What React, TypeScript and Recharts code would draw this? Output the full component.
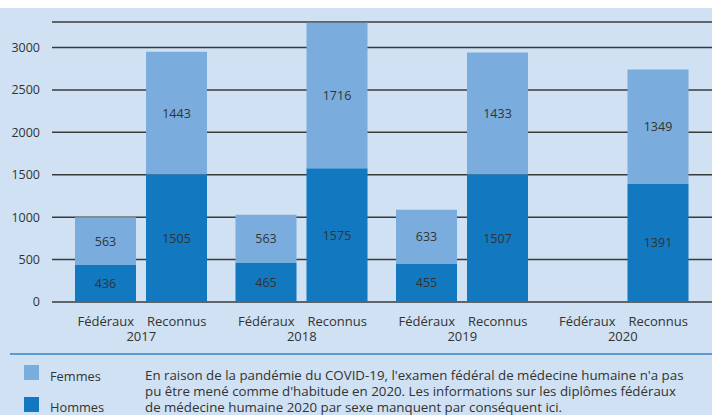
import React from "react";
import { BarChart, Bar, XAxis, YAxis, CartesianGrid, LabelList } from "recharts";

const years = ["2017", "2018", "2019", "2020"];
const federauxHommes = [436, 465, 455, null];
const federauxFemmes = [563, 563, 633, null];
const reconnusHommes = [1505, 1575, 1507, 1391];
const reconnusFemmes = [1443, 1716, 1433, 1349];
const yTicks = [0, 500, 1000, 1500, 2000, 2500, 3000];
const subLabels = ["Fédéraux", "Reconnus"];
const legendLabels = ["Femmes", "Hommes"];
const noteLines = [
  "En raison de la pandémie du COVID-19, l'examen fédéral de médecine humaine n'a pas",
  "pu être mené comme d'habitude en 2020. Les informations sur les diplômes fédéraux",
  "de médecine humaine 2020 par sexe manquent par conséquent ici.",
];

const data = years.map((y, i) => ({
  year: y,
  fedH: federauxHommes[i],
  fedF: federauxFemmes[i],
  recH: reconnusHommes[i],
  recF: reconnusFemmes[i],
}));

const FONT = "'Open Sans', sans-serif";
const TEXT = "#333333";
const DARK = "#1278c0";
const LIGHT = "#7aaddd";
const BG = "#cfe1f2";

const XTick = (props: any) => {
  const { x, y, payload } = props;
  return (
    <g>
      <text x={x - 35.5} y={y + 17} textAnchor="middle" dominantBaseline="central" fontSize={13} fill={TEXT} fontFamily={FONT}>
        {subLabels[0]}
      </text>
      <text x={x + 35.5} y={y + 17} textAnchor="middle" dominantBaseline="central" fontSize={13} fill={TEXT} fontFamily={FONT}>
        {subLabels[1]}
      </text>
      <text x={x} y={y + 32} textAnchor="middle" dominantBaseline="central" fontSize={13} fill={TEXT} fontFamily={FONT}>
        {payload.value}
      </text>
    </g>
  );
};

const labelStyle = { fontSize: 12.5, fill: TEXT, fontFamily: FONT };

export default function App() {
  return (
    <div style={{ position: "absolute", left: 0, top: 8, width: 712, height: 407, background: BG, overflow: "hidden", fontFamily: FONT }}>
      <BarChart
        width={712}
        height={345}
        data={data}
        margin={{ top: 14, right: 0, bottom: 0, left: 0 }}
        barGap={10}
        barSize={61}
      >
        <CartesianGrid vertical={false} stroke="#3a3a3a" strokeWidth={1.5} />
        <XAxis
          dataKey="year"
          axisLine={false}
          tickLine={false}
          tickSize={0}
          height={51}
          padding={{ left: 9, right: 9 }}
          tick={<XTick />}
          interval={0}
        />
        <YAxis
          domain={[0, 3300]}
          ticks={yTicks}
          axisLine={false}
          tickLine={false}
          tickSize={0}
          tickMargin={12}
          width={52}
          tick={{ fontSize: 12.5, fill: TEXT, fontFamily: FONT }}
        />
        <Bar dataKey="fedH" stackId="fed" fill={DARK} isAnimationActive={false}>
          <LabelList dataKey="fedH" position="center" style={labelStyle} />
        </Bar>
        <Bar dataKey="fedF" stackId="fed" fill={LIGHT} isAnimationActive={false}>
          <LabelList dataKey="fedF" position="center" style={labelStyle} />
        </Bar>
        <Bar dataKey="recH" stackId="rec" fill={DARK} isAnimationActive={false}>
          <LabelList dataKey="recH" position="center" style={labelStyle} />
        </Bar>
        <Bar dataKey="recF" stackId="rec" fill={LIGHT} isAnimationActive={false}>
          <LabelList dataKey="recF" position="center" style={labelStyle} />
        </Bar>
      </BarChart>
      <div style={{ position: "absolute", left: 10, right: 0, top: 345, height: 2, background: "#5b9bd5" }} />
      <div style={{ position: "absolute", left: 24, top: 357, width: 15, height: 15, background: LIGHT }} />
      <div style={{ position: "absolute", left: 24, top: 389, width: 15, height: 15, background: DARK }} />
      <div style={{ position: "absolute", left: 50, top: 359.5, fontSize: 12.8, lineHeight: "16px", color: TEXT }}>{legendLabels[0]}</div>
      <div style={{ position: "absolute", left: 50, top: 391, fontSize: 12.8, lineHeight: "16px", color: TEXT }}>{legendLabels[1]}</div>
      <div style={{ position: "absolute", left: 145, top: 359, fontSize: 13.3, lineHeight: "16px", color: TEXT, whiteSpace: "nowrap" }}>
        {noteLines.map((l, i) => (
          <div key={i}>{l}</div>
        ))}
      </div>
    </div>
  );
}
